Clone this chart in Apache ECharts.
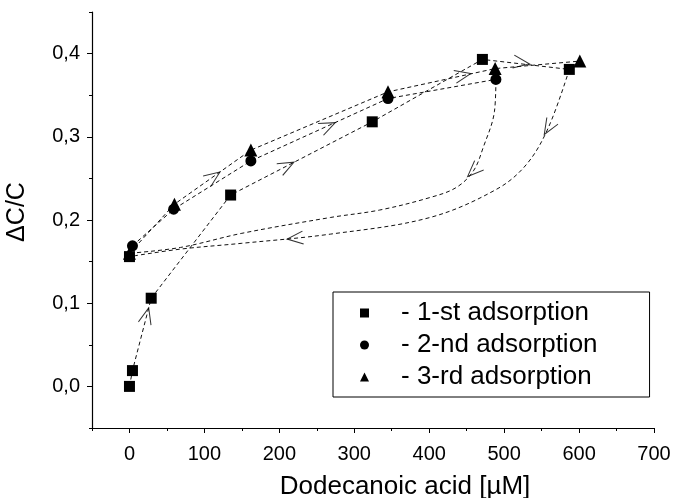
<!DOCTYPE html>
<html>
<head>
<meta charset="utf-8">
<script src="https://cdn.jsdelivr.net/npm/echarts@6/dist/echarts.min.js"></script>
<style>
html,body{margin:0;padding:0;background:#fff;}
#chart{width:675px;height:498px;}
</style>
</head>
<body>
<div id="chart"></div>
<script>
// ---- data ----
const xTickLabels = [0, 100, 200, 300, 400, 500, 600, 700];
const yTickLabels = [0, 0.1, 0.2, 0.3, 0.4];

const ads1X = [0, 4, 29, 135, 324, 471, 587];
const ads1Y = [0.000, 0.019, 0.106, 0.230, 0.318, 0.393, 0.381];

const ads2X = [4, 59, 162, 345, 489];
const ads2Y = [0.169, 0.213, 0.271, 0.346, 0.369];

const ads3X = [0, 60, 162, 345, 488, 601];
const ads3Y = [0.160, 0.219, 0.284, 0.354, 0.382, 0.391];

// return (desorption) paths
const des1X = [587, 559, 530, 490, 401, 268, 150, 68, 0];
const des1Y = [0.381, 0.311, 0.267, 0.237, 0.203, 0.183, 0.172, 0.165, 0.156];

const des2X = [489, 487, 472, 459, 436, 401, 334, 268, 150, 68, 0];
const des2Y = [0.368, 0.330, 0.287, 0.259, 0.239, 0.227, 0.212, 0.203, 0.184, 0.167, 0.160];

// arrow heads: position and a point further along the path
const arrowX = [23, 210, 112, 265, 445, 523, 559, 459, 221];
const arrowY = [0.085, 0.265, 0.252, 0.313, 0.374, 0.389, 0.311, 0.259, 0.178];
const arrowToX = [29, 324, 162, 345, 488, 587, 530, 436, 150];
const arrowToY = [0.106, 0.318, 0.284, 0.346, 0.382, 0.381, 0.267, 0.239, 0.172];

const seriesNames = ['1-st adsorption', '2-nd adsorption', '3-rd adsorption'];

// ---- chart ----
const FONT = "'Liberation Sans', Arial, sans-serif";
const zip = (a, b) => a.map((v, i) => [v, b[i]]);
const dash = { type: [4, 3], width: 1, color: '#111' };

const chart = echarts.init(document.getElementById('chart'), null, { renderer: 'canvas' });

function buildOption(rotations) {
  const arrowData = arrowX.map((x, i) => ({
    value: [x, arrowY[i]],
    symbolRotate: rotations ? rotations[i] : 0
  }));
  return {
    animation: false,
    backgroundColor: '#fff',
    textStyle: { fontFamily: FONT },
    grid: { left: 92, right: 21, top: 12, bottom: 70, containLabel: false, outerBoundsMode: 'none' },
    legend: {
      orient: 'vertical',
      left: 333, top: 292,
      borderColor: '#000', borderWidth: 1,
      padding: [8, 52, 7, 27],
      itemGap: 6,
      itemWidth: 9, itemHeight: 9,
      selectedMode: false,
      formatter: name => '- ' + name,
      textStyle: { fontSize: 26, color: '#000', fontFamily: FONT, padding: [0, 0, 0, 27] },
      data: [
        { name: seriesNames[0], icon: 'rect' },
        { name: seriesNames[1], icon: 'circle' },
        { name: seriesNames[2], icon: 'triangle' }
      ]
    },
    xAxis: [{
      type: 'value', min: -50, max: 700, interval: 50,
      name: 'Dodecanoic acid [\u00B5M]', nameLocation: 'middle', nameGap: 46,
      nameTextStyle: { fontSize: 26, color: '#000', fontFamily: FONT, padding: [0, 0, 0, 64] },
      axisLine: { show: true, onZero: false, lineStyle: { color: '#000', width: 1.2 } },
      axisTick: { show: true, length: 5, customValues: xTickLabels, lineStyle: { color: '#000' } },
      axisLabel: { customValues: xTickLabels, fontSize: 20, color: '#000', margin: 16, fontFamily: FONT },
      splitLine: { show: false }
    }, {
      type: 'value', min: -50, max: 700, interval: 50, position: 'bottom',
      axisLine: { show: false, onZero: false }, axisLabel: { show: false }, splitLine: { show: false },
      axisTick: { show: true, length: 3, lineStyle: { color: '#000' } }
    }],
    yAxis: [{
      type: 'value', min: -0.05, max: 0.45, interval: 0.05,
      name: '\u0394C/C', nameLocation: 'middle', nameGap: 62, nameRotate: 90,
      nameTextStyle: { fontSize: 25, color: '#000', fontFamily: FONT, padding: [0, 0, 0, 16] },
      axisLine: { show: true, onZero: false, lineStyle: { color: '#000', width: 1.2 } },
      axisTick: { show: true, length: 5, customValues: yTickLabels, lineStyle: { color: '#000' } },
      axisLabel: {
        customValues: yTickLabels, fontSize: 20, color: '#000', margin: 12, fontFamily: FONT,
        formatter: v => v.toFixed(1).replace('.', ',')
      },
      splitLine: { show: false }
    }, {
      type: 'value', min: -0.05, max: 0.45, interval: 0.05, position: 'left',
      axisLine: { show: false, onZero: false }, axisLabel: { show: false }, splitLine: { show: false },
      axisTick: { show: true, length: 3, lineStyle: { color: '#000' } }
    }],
    series: [
      {
        name: 'des1', type: 'line', data: des1X.map((x, i) => (i === des1X.length - 1)
          ? { value: [x, des1Y[i]], symbol: 'rect', symbolSize: 11 } : [x, des1Y[i]]),
        smooth: 0.35, symbol: 'none', showSymbol: true, lineStyle: dash,
        itemStyle: { color: '#000' }, z: 2
      },
      {
        name: 'des2', type: 'line', data: zip(des2X, des2Y),
        smooth: 0.35, symbol: 'none', lineStyle: dash, z: 2
      },
      {
        name: seriesNames[0], type: 'line', data: zip(ads1X, ads1Y),
        symbol: 'rect', symbolSize: 11, lineStyle: dash,
        itemStyle: { color: '#000' }, z: 3
      },
      {
        name: seriesNames[1], type: 'line', data: zip(ads2X, ads2Y),
        symbol: 'circle', symbolSize: 11, lineStyle: dash,
        itemStyle: { color: '#000' }, z: 3
      },
      {
        name: seriesNames[2], type: 'line', data: zip(ads3X, ads3Y),
        symbol: 'triangle', symbolSize: 13, lineStyle: dash,
        itemStyle: { color: '#000' }, z: 3
      },
      {
        name: 'arrows', type: 'scatter', data: arrowData,
        symbol: 'path://M0,0 L16,6.5 L0,13', symbolSize: [16, 13],
        itemStyle: { color: 'rgba(0,0,0,0)', borderColor: '#000', borderWidth: 1.1 },
        z: 4, silent: true
      }
    ]
  };
}

chart.setOption(buildOption(null));
const rots = arrowX.map((x, i) => {
  const p1 = chart.convertToPixel({ gridIndex: 0 }, [x, arrowY[i]]);
  const p2 = chart.convertToPixel({ gridIndex: 0 }, [arrowToX[i], arrowToY[i]]);
  return Math.atan2(-(p2[1] - p1[1]), p2[0] - p1[0]) * 180 / Math.PI;
});
chart.setOption(buildOption(rots));
</script>
</body>
</html>
